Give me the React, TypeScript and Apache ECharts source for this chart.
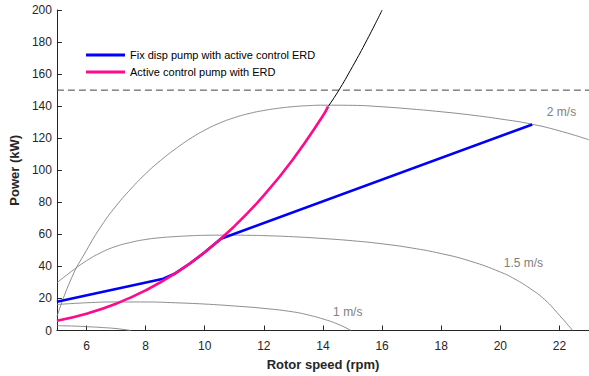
import React, { useEffect, useRef } from "react";
import * as echarts from "echarts";

// Axis ticks
const xTicks = [6, 8, 10, 12, 14, 16, 18, 20, 22];

// Gray iso-velocity power curves (rotor speed rpm -> power kW)
const curve2X = [5, 5.5, 6, 6.5, 7, 7.5, 8, 8.5, 9, 9.5, 10, 10.5, 11, 11.5, 12, 12.5, 13, 13.5, 14, 15, 16, 17, 18, 19, 20, 21, 22, 23];
const curve2Y = [8.6, 33, 50, 65.2, 77.7, 88.3, 97.8, 106, 113.2, 119.6, 125, 129.4, 132.8, 135.4, 137.3, 138.7, 139.7, 140.3, 140.6, 140.5, 139.6, 138.2, 136.5, 134.5, 132, 129, 124.6, 119];

const curve15X = [5, 5.5, 6, 6.5, 7, 7.5, 8, 8.5, 9, 9.5, 10, 10.5, 11, 11.5, 12, 13, 14, 15, 16, 17, 18, 19, 20, 20.5, 21, 21.5, 22, 22.45];
const curve15Y = [29.8, 37, 43.5, 48.7, 52.5, 55, 56.8, 57.9, 58.6, 59.1, 59.4, 59.5, 59.5, 59.4, 59.2, 58.5, 57.4, 56, 54.1, 51.5, 48, 43.2, 36.5, 32, 26.3, 19.3, 9.5, 0];

const curve1X = [5, 6, 7, 8, 9, 10, 11, 12, 13, 13.5, 14, 14.5, 14.95];
const curve1Y = [16.2, 17.3, 17.8, 17.8, 17.3, 16.5, 15.3, 13.8, 11.6, 9.7, 7.2, 4, 0];

const curve05X = [5, 5.5, 6, 6.5, 7, 7.5];
const curve05Y = [3, 2.8, 2.4, 1.9, 1.2, 0];

// Cubic power curve beyond the active control range
const cubicX = [14.17, 14.5, 15, 15.5, 16];
const cubicY = [139.7, 148.8, 164.7, 181.7, 199.9];

// Strategies
const fixDispX = [5, 8.6, 9, 9.5, 10, 10.55, 21.08];
const fixDispY = [18, 32.3, 35.6, 41.8, 48.8, 57.3, 128.5];

const activeX = [5, 6, 7, 8, 9, 10, 11, 12, 13, 14, 14.17];
const activeY = [6.1, 10.5, 16.7, 25, 35.6, 48.8, 65, 84.3, 107.2, 134, 139.7];

// Rated power limit
const ratedPower = 150;
const axisRange = [5, 23];

// Curve labels: text and data position
const curveLabels = ["2 m/s", "1.5 m/s", "1 m/s"];
const curveLabelX = [22.07, 20.78, 14.84];
const curveLabelY = [136.5, 42.1, 11.7];

const seriesNames = ["Fix disp pump with active control ERD", "Active control pump with ERD"];

const zip = (xs: number[], ys: number[]) => xs.map((x, i) => [x, ys[i]]);

const FONT = "'Liberation Sans', Arial, Helvetica, sans-serif";
const GRAY = "#808080";

function grayCurve(xs: number[], ys: number[], labelIdx: number | null) {
  const s: any = {
    type: "line",
    data: zip(xs, ys),
    smooth: 0.5,
    symbol: "none",
    silent: true,
    lineStyle: { color: GRAY, width: 0.9 },
    z: 2,
  };
  if (labelIdx !== null) {
    s.markPoint = {
      symbol: "circle",
      symbolSize: 1,
      itemStyle: { color: "rgba(0,0,0,0)" },
      silent: true,
      label: {
        show: true,
        position: "inside",
        formatter: curveLabels[labelIdx],
        color: GRAY,
        fontSize: 12,
        fontFamily: FONT,
      },
      data: [{ coord: [curveLabelX[labelIdx], curveLabelY[labelIdx]] }],
    };
  }
  return s;
}

export default function App() {
  const ref = useRef<HTMLDivElement>(null);
  useEffect(() => {
    const chart = echarts.init(ref.current!, null, { renderer: "svg" });
    const option: any = {
      animation: false,
      backgroundColor: "#ffffff",
      grid: { left: 56.5, top: 10, width: 533, height: 320.5, containLabel: false },
      legend: {
        data: seriesNames,
        orient: "vertical",
        left: 86,
        top: 48,
        padding: 0,
        itemWidth: 39,
        itemHeight: 3,
        itemGap: 3,
        icon: "rect",
        textStyle: { fontSize: 11, fontFamily: FONT, color: "#000", lineHeight: 14 },
        selectedMode: false,
      },
      xAxis: {
        type: "value",
        min: axisRange[0],
        max: axisRange[1],
        name: "Rotor speed (rpm)",
        nameLocation: "middle",
        nameGap: 27,
        nameTextStyle: { fontSize: 13, fontWeight: "bold", fontFamily: FONT, color: "#262626" },
        axisLine: { show: true, onZero: false, lineStyle: { color: "#262626", width: 1 } },
        axisTick: { show: true, inside: true, length: 5, customValues: xTicks, lineStyle: { color: "#262626" } },
        axisLabel: { customValues: xTicks, fontSize: 12, fontFamily: FONT, color: "#262626", margin: 9 },
        splitLine: { show: false },
      },
      yAxis: {
        type: "value",
        min: 0,
        max: 200,
        interval: 20,
        name: "Power (kW)",
        nameLocation: "middle",
        nameGap: 33,
        nameRotate: 90,
        nameTextStyle: { fontSize: 13, fontWeight: "bold", fontFamily: FONT, color: "#262626" },
        axisLine: { show: true, lineStyle: { color: "#262626", width: 1 } },
        axisTick: { show: true, inside: true, length: 5, lineStyle: { color: "#262626" } },
        axisLabel: { fontSize: 12, fontFamily: FONT, color: "#262626", margin: 5 },
        splitLine: { show: false },
      },
      series: [
        grayCurve(curve2X, curve2Y, 0),
        grayCurve(curve15X, curve15Y, 1),
        grayCurve(curve1X, curve1Y, 2),
        grayCurve(curve05X, curve05Y, null),
        {
          type: "line",
          name: "rated",
          data: [
            [axisRange[0], ratedPower],
            [axisRange[1], ratedPower],
          ],
          symbol: "none",
          silent: true,
          lineStyle: { color: "#444444", width: 1, type: [7, 4] },
          z: 2,
        },
        {
          type: "line",
          name: "cubic",
          data: zip(cubicX, cubicY),
          smooth: 0.5,
          symbol: "none",
          silent: true,
          lineStyle: { color: "#000000", width: 1 },
          z: 3,
        },
        {
          type: "line",
          name: seriesNames[0],
          data: zip(fixDispX, fixDispY),
          symbol: "none",
          color: "#0000ff",
          lineStyle: { color: "#0000ff", width: 2.6 },
          z: 4,
        },
        {
          type: "line",
          name: seriesNames[1],
          data: zip(activeX, activeY),
          smooth: 0.5,
          symbol: "none",
          color: "#ff0a8c",
          lineStyle: { color: "#ff0a8c", width: 2.6 },
          z: 5,
        },
      ],
    };
    chart.setOption(option);
    return () => chart.dispose();
  }, []);
  return (
    <div
      ref={ref}
      style={{ position: "absolute", left: 0, top: 0, width: 589, height: 376, background: "#fff" }}
    />
  );
}
